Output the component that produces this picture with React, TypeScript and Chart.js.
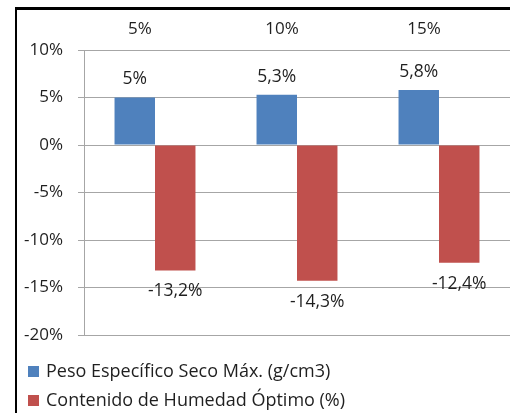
import React, { useEffect, useRef } from "react";
import { Chart, registerables } from "chart.js";

Chart.register(...registerables);

const categories = ["5%", "10%", "15%"];
const pesoValues = [5, 5.3, 5.8];
const humedadValues = [-13.2, -14.3, -12.4];
const seriesNames = ["Peso Específico Seco Máx. (g/cm3)", "Contenido de Humedad Óptimo (%)"];
const seriesColors = ["#4f81bd", "#c0504d"];
const yTicks = [10, 5, 0, -5, -10, -15, -20];

const FONT = "'Open Sans', 'DejaVu Sans', sans-serif";
const TEXT = "#1f1f1f";

const fmt = (v: number) => String(v).replace(".", ",") + "%";

const labelPlugin = {
  id: "barLabels",
  afterDatasetsDraw(chart: any) {
    const ctx = chart.ctx;
    ctx.save();
    ctx.font = `17.5px ${FONT}`;
    ctx.fillStyle = TEXT;
    ctx.textAlign = "center";
    ctx.textBaseline = "middle";
    chart.data.datasets.forEach((ds: any, di: number) => {
      const meta = chart.getDatasetMeta(di);
      meta.data.forEach((el: any, i: number) => {
        const v = ds.data[i];
        const y = v >= 0 ? el.y - 18 : el.y + 21;
        ctx.fillText(fmt(v), el.x, y);
      });
    });
    ctx.restore();
  },
};

const legendPlugin = {
  id: "stackedLegend",
  afterDraw(chart: any) {
    const ctx = chart.ctx;
    ctx.save();
    ctx.font = `18px ${FONT}`;
    ctx.textAlign = "left";
    ctx.textBaseline = "middle";
    const rows = [372, 401];
    chart.data.datasets.forEach((ds: any, i: number) => {
      const y = rows[i];
      ctx.fillStyle = ds.backgroundColor;
      ctx.fillRect(28, y - 6, 11, 11);
      ctx.fillStyle = TEXT;
      ctx.fillText(ds.label, 46, y);
    });
    ctx.restore();
  },
};

export default function App() {
  const ref = useRef<HTMLCanvasElement | null>(null);
  useEffect(() => {
    if (!ref.current) return;
    const chart = new Chart(ref.current, {
      type: "bar",
      data: {
        labels: categories,
        datasets: [
          { label: seriesNames[0], data: pesoValues, backgroundColor: seriesColors[0] },
          { label: seriesNames[1], data: humedadValues, backgroundColor: seriesColors[1] },
        ],
      },
      options: {
        animation: false,
        responsive: true,
        maintainAspectRatio: false,
        layout: { padding: { left: 0, right: 0, top: 0, bottom: 78 } },
        datasets: { bar: { categoryPercentage: 0.57, barPercentage: 1 } },
        plugins: { legend: { display: false }, tooltip: { enabled: false } },
        scales: {
          x: {
            position: "top",
            grid: { display: false },
            border: { display: false },
            ticks: { color: TEXT, font: { family: FONT, size: 17 }, labelOffset: -15, padding: 3 },
            afterFit: (s: any) => { s.height = 50; },
          },
          y: {
            min: -20,
            max: 10,
            afterBuildTicks: (s: any) => { s.ticks = yTicks.map((v) => ({ value: v })); },
            grid: { color: "#a6a6a6", tickLength: 6, lineWidth: 1 },
            border: { display: true, color: "#a6a6a6" },
            ticks: {
              color: TEXT,
              font: { family: FONT, size: 17 },
              padding: 15,
              callback: (v: any) => v + "%",
            },
            afterFit: (s: any) => { s.width = 84; },
          },
        },
      },
      plugins: [labelPlugin, legendPlugin],
    });
    return () => chart.destroy();
  }, []);
  return (
    <div style={{ position: "fixed", left: 0, top: 0, width: 510, height: 413, background: "#fff" }}>
      <div
        style={{
          position: "absolute",
          left: 15,
          top: 7,
          width: 495,
          height: 406,
          borderLeft: "2px solid #000",
          borderTop: "3px solid #000",
          boxSizing: "border-box",
        }}
      />
      <canvas ref={ref} style={{ position: "absolute", left: 0, top: 0 }} />
    </div>
  );
}
